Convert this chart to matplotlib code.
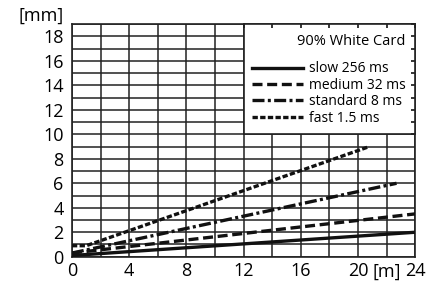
import numpy as np
import matplotlib
matplotlib.use("Agg")
import matplotlib.pyplot as plt

plt.rcParams['font.family'] = ['Open Sans', 'DejaVu Sans']

# spot size [mm] against distance [m], 90% white card
slow_x = [0, 24]
slow_y = [0.1, 2.0]
medium_x = [0, 24]
medium_y = [0.3, 3.5]
standard_x = [0, 22.7]
standard_y = [0.3, 6.0]
fast_x = [0, 1, 20.8]
fast_y = [0.9, 0.9, 9.0]

labels = ["slow 256 ms", "medium 32 ms", "standard 8 ms", "fast 1.5 ms"]
legend_title = "90% White Card"

x_ticks = [0, 4, 8, 12, 16, 20, 22, 24]
x_labels = ["0", "4", "8", "12", "16", "20", "[m]", "24"]
y_ticks = [0, 2, 4, 6, 8, 10, 12, 14, 16, 18]

fig = plt.figure(figsize=(4.44, 2.84), dpi=100)
ax = fig.add_axes([0.162, 0.096, 0.773, 0.819])

ax.set_xlim(0, 24)
ax.set_ylim(0, 19)
ax.set_xticks(np.arange(0, 25, 2), minor=True)
ax.set_yticks(np.arange(0, 20, 1), minor=True)
ax.set_xticks(x_ticks)
ax.set_yticks(y_ticks)
ax.set_xticklabels(x_labels, fontsize=13)
ax.set_yticklabels([str(v) for v in y_ticks], fontsize=13)
ax.tick_params(which='both', length=0, pad=4)
ax.tick_params(axis='y', pad=6)
ax.grid(True, which='both', color='#222222', linewidth=1.1)
ax.set_axisbelow(True)
for sp in ax.spines.values():
    sp.set_linewidth(1.2)
    sp.set_color('#222222')

fig.text(64 / 444, 1 - 16 / 284, "[mm]", fontsize=13, ha='right', va='center')

lw = 2.4
h1, = ax.plot(slow_x, slow_y, color='#111111', lw=lw, linestyle='-', zorder=3)
h2, = ax.plot(medium_x, medium_y, color='#111111', lw=lw, linestyle=(0, (3, 1.4)), zorder=3)
h3, = ax.plot(standard_x, standard_y, color='#111111', lw=lw, linestyle=(0, (3.6, 1, 0.9, 1)), zorder=3)
h4, = ax.plot(fast_x, fast_y, color='#111111', lw=lw, linestyle=(0, (1.6, 0.7)), zorder=3)

# white legend panel covering the upper right of the grid
box = ax.inset_axes([12, 10, 12, 9], transform=ax.transData, zorder=4)
box.set_xlim(12, 24)
box.set_ylim(10, 19)
box.set_facecolor('white')
box.set_xticks(np.arange(12, 25, 2))
box.set_yticks(np.arange(10, 20, 1))
box.tick_params(which='both', direction='in', length=3, width=1.1,
                top=True, right=True, bottom=False, left=False,
                labelbottom=False, labelleft=False)
for sp in box.spines.values():
    sp.set_linewidth(1.2)
    sp.set_color('#222222')

leg = box.legend([h1, h2, h3, h4], labels, loc='upper right', title=legend_title,
                 frameon=False, fontsize=10, title_fontsize=10.5, alignment='right',
                 handlelength=3.7, handletextpad=0.4, labelspacing=0.1,
                 borderaxespad=0.3, borderpad=0.4)
leg._legend_box.sep = 9

fig.savefig("out.png", dpi=100)
